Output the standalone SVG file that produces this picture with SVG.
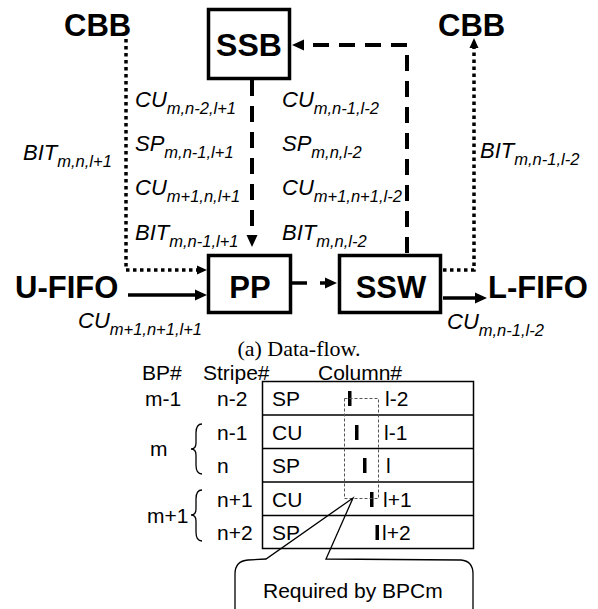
<svg xmlns="http://www.w3.org/2000/svg" width="598" height="609" viewBox="0 0 598 609">
<style>
.b{font-family:"Liberation Sans",Arial,sans-serif;font-weight:bold;font-size:31px;fill:#000}
.i{font-family:"Liberation Sans",Arial,sans-serif;font-style:italic;font-size:22px;fill:#000}
.s{font-size:16.5px}
.t{font-family:"Liberation Sans",Arial,sans-serif;font-size:21px;fill:#000}
.cap{font-family:"Liberation Serif","Times New Roman",serif;font-size:22px;fill:#000}
.box{fill:#fff;stroke:#000;stroke-width:3.5}
.dot{fill:none;stroke:#000;stroke-width:3.5;stroke-dasharray:3.5 3.5}
.dash{fill:none;stroke:#000;stroke-width:4;stroke-dasharray:16 10}
.sol{fill:none;stroke:#000;stroke-width:3.5}
.thin{fill:none;stroke:#000;stroke-width:1.3}
.bar{fill:#000}
</style>
<defs>
<marker id="ah" markerUnits="userSpaceOnUse" markerWidth="14" markerHeight="12" viewBox="0 0 14 12" refX="2" refY="6" orient="auto">
<path d="M0,0.5 L12,6 L0,11.5 z" fill="#000"/>
</marker>
<marker id="ahs" markerUnits="userSpaceOnUse" markerWidth="12" markerHeight="10" viewBox="0 0 12 10" refX="2" refY="5" orient="auto">
<path d="M0,0.5 L10,5 L0,9.5 z" fill="#000"/>
</marker>
</defs>

<g id="connectors">
<path class="dot" d="M126,39 V270 H199" marker-end="url(#ahs)"/>
<path class="dot" d="M443,270 H474 V46" marker-end="url(#ahs)"/>
<path class="dash" d="M252,80 V237" marker-end="url(#ah)"/>
<path class="dash" d="M407,253 V45 H302" marker-end="url(#ah)"/>
<path class="sol" d="M292,283 H307"/>
<path class="sol" d="M320,283 H327" marker-end="url(#ah)"/>
<path class="sol" d="M128,295 H197" marker-end="url(#ah)"/>
<path class="sol" d="M443,298 H477" marker-end="url(#ah)"/>
</g>

<g id="cbb-left"><text class="b" x="64" y="36">CBB</text></g>
<g id="cbb-right"><text class="b" x="438" y="36">CBB</text></g>
<g id="ssb"><rect class="box" x="208.5" y="9.5" width="81" height="69"/><text class="b" x="249" y="56" text-anchor="middle" style="font-size:32px">SSB</text></g>
<g id="pp"><rect class="box" x="208.5" y="255.5" width="82" height="57"/><text class="b" x="250" y="298" text-anchor="middle">PP</text></g>
<g id="ssw"><rect class="box" x="339.5" y="255.5" width="101" height="57"/><text class="b" x="391" y="298" text-anchor="middle">SSW</text></g>
<g id="u-fifo"><text class="b" x="15" y="298">U-FIFO</text></g>
<g id="l-fifo"><text class="b" x="488" y="298">L-FIFO</text></g>

<g id="labels">
<text class="i" x="23" y="160">BIT<tspan class="s" dy="7">m,n,l+1</tspan></text>
<text class="i" x="480" y="158">BIT<tspan class="s" dy="7">m,n-1,l-2</tspan></text>
<text class="i" x="135" y="107">CU<tspan class="s" dy="7">m,n-2,l+1</tspan></text>
<text class="i" x="135" y="151">SP<tspan class="s" dy="7">m,n-1,l+1</tspan></text>
<text class="i" x="135" y="195">CU<tspan class="s" dy="7">m+1,n,l+1</tspan></text>
<text class="i" x="135" y="240">BIT<tspan class="s" dy="7">m,n-1,l+1</tspan></text>
<text class="i" x="282" y="107">CU<tspan class="s" dy="7">m,n-1,l-2</tspan></text>
<text class="i" x="282" y="151">SP<tspan class="s" dy="7">m,n,l-2</tspan></text>
<text class="i" x="282" y="195">CU<tspan class="s" dy="7">m+1,n+1,l-2</tspan></text>
<text class="i" x="282" y="240">BIT<tspan class="s" dy="7">m,n,l-2</tspan></text>
<text class="i" x="78" y="328">CU<tspan class="s" dy="7">m+1,n+1,l+1</tspan></text>
<text class="i" x="447" y="329">CU<tspan class="s" dy="7">m,n-1,l-2</tspan></text>
</g>

<g id="caption"><text class="cap" x="299" y="356" text-anchor="middle">(a) Data-flow.</text></g>

<g id="table">
<text class="t" x="142" y="380">BP#</text>
<text class="t" x="203" y="380">Stripe#</text>
<text class="t" x="318" y="380">Column#</text>
<rect x="262.5" y="381.5" width="211" height="167" fill="none" stroke="#000" stroke-width="1.5"/>
<path d="M262.5,415 H473.5 M262.5,448.5 H473.5 M262.5,482 H473.5 M262.5,515.5 H473.5" stroke="#000" stroke-width="1.5"/>
<text class="t" x="145" y="406">m-1</text>
<text class="t" x="150" y="456">m</text>
<text class="t" x="147" y="523">m+1</text>
<path class="thin" d="M202,424 Q196,424 196,433 L196,443 Q196,449 191,449 Q196,449 196,455 L196,465 Q196,474 202,474"/>
<path class="thin" d="M202,490 Q196,490 196,499 L196,509 Q196,515 191,515 Q196,515 196,521 L196,532 Q196,541 202,541"/>
<text class="t" x="217" y="406">n-2</text>
<text class="t" x="217" y="440">n-1</text>
<text class="t" x="217" y="473">n</text>
<text class="t" x="217" y="507">n+1</text>
<text class="t" x="217" y="540">n+2</text>
<text class="t" x="272" y="406">SP</text>
<text class="t" x="272" y="440">CU</text>
<text class="t" x="272" y="473">SP</text>
<text class="t" x="272" y="507">CU</text>
<text class="t" x="272" y="540">SP</text>
<rect class="bar" x="348" y="391" width="3.5" height="15"/>
<rect class="bar" x="355" y="425" width="3.5" height="15"/>
<rect class="bar" x="363" y="458" width="3.5" height="15"/>
<rect class="bar" x="370" y="492" width="3.5" height="15"/>
<rect class="bar" x="375.5" y="525" width="3.5" height="15"/>
<text class="t" x="385" y="406">l-2</text>
<text class="t" x="384" y="440">l-1</text>
<text class="t" x="386" y="473">l</text>
<text class="t" x="383" y="507">l+1</text>
<text class="t" x="382" y="540">l+2</text>
<rect x="344.5" y="398.5" width="34" height="100" fill="none" stroke="#555" stroke-width="1" stroke-dasharray="3 2"/>
</g>

<g id="callout">
<path class="thin" d="M235,612 L235,574 Q235,561 248,560 L266,559 L353,498 L326,559 L461,560 Q473,561 473,574 L473,612"/>
<text class="t" x="263" y="598">Required by BPCm</text>
</g>
</svg>
